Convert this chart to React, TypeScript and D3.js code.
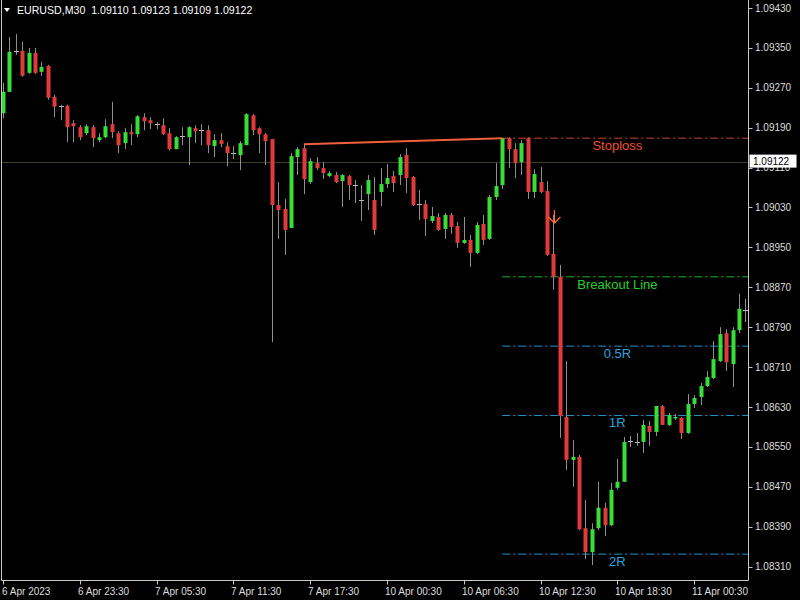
import React from "react";
import * as d3 from "d3";

// Chart header
const symbol = "EURUSD,M30";
const headerQuote = ["1.09110", "1.09123", "1.09109", "1.09122"];
const bidPrice = 1.09122;

// OHLC per 30-minute bar, oldest first
const opens = [
  1.09219, 1.09262, 1.09344, 1.09344, 1.093, 1.0934, 1.09302, 1.09314, 1.09252, 1.09234,
  1.09234, 1.09199, 1.09191, 1.09179, 1.09191, 1.09165, 1.09171, 1.09197, 1.09179, 1.09159,
  1.09181, 1.09177, 1.09211, 1.09205, 1.09197, 1.09195, 1.09179, 1.09147, 1.09173, 1.09171,
  1.09189, 1.09185, 1.09185, 1.09153, 1.09165, 1.09153, 1.09139, 1.09135, 1.09155, 1.09215,
  1.09189, 1.09177, 1.09167, 1.09035, 1.09027, 1.08989, 1.09131, 1.09149, 1.09081, 1.09119,
  1.09109, 1.09093, 1.09095, 1.09083, 1.09093, 1.09075, 1.09045, 1.09057, 1.09045, 1.09061,
  1.09077, 1.09093, 1.09095, 1.09135, 1.09091, 1.09037, 1.09037, 1.09003, 1.09011, 1.08987,
  1.09015, 1.08993, 1.08959, 1.08965, 1.08939, 1.08997, 1.08967, 1.09051, 1.09075, 1.09169,
  1.09147, 1.09121, 1.09169, 1.09061, 1.09081, 1.09063, 1.08937, 1.08891, 1.0861, 1.08524,
  1.0853, 1.08387, 1.08339, 1.08387, 1.08428, 1.08393, 1.08468, 1.0848, 1.08562, 1.0856,
  1.0856, 1.08592, 1.0858, 1.08632, 1.08594, 1.08608, 1.08608, 1.08578, 1.08636, 1.0865,
  1.08672, 1.08688, 1.08722, 1.08778, 1.08716, 1.08784, 1.08824,
];
const highs = [
  1.0928, 1.09372, 1.09378, 1.09362, 1.0935, 1.0935, 1.09322, 1.09316, 1.09256, 1.09236,
  1.09236, 1.09205, 1.09195, 1.09197, 1.09195, 1.09179, 1.09207, 1.09242, 1.09183, 1.09189,
  1.09197, 1.09215, 1.09219, 1.09211, 1.09201, 1.09209, 1.09189, 1.09173, 1.09191, 1.09193,
  1.09195, 1.09197, 1.09195, 1.09177, 1.09179, 1.09161, 1.09153, 1.09163, 1.09219, 1.09217,
  1.09191, 1.09179, 1.09167, 1.09081, 1.09047, 1.09139, 1.09151, 1.09157, 1.09129, 1.09131,
  1.09121, 1.09103, 1.09101, 1.09097, 1.09095, 1.09085, 1.09075, 1.09095, 1.09091, 1.09109,
  1.09117, 1.09103, 1.09137, 1.09149, 1.09093, 1.09065, 1.09045, 1.09031, 1.09019, 1.09019,
  1.09019, 1.09001, 1.09011, 1.08975, 1.09001, 1.09015, 1.09055, 1.09119, 1.09169, 1.09171,
  1.09159, 1.09165, 1.09171, 1.09107, 1.09111, 1.09083, 1.09015, 1.08915, 1.08722, 1.08564,
  1.08534, 1.08444, 1.08397, 1.0848, 1.08438, 1.08478, 1.08526, 1.0857, 1.08572, 1.08578,
  1.08604, 1.08602, 1.08632, 1.08634, 1.08618, 1.08616, 1.0861, 1.08656, 1.08654, 1.08678,
  1.08702, 1.08762, 1.0879, 1.08786, 1.0879, 1.08857, 1.08847,
];
const lows = [
  1.09209, 1.09262, 1.09336, 1.09292, 1.09298, 1.09298, 1.09294, 1.09246, 1.09211, 1.09205,
  1.09161, 1.09161, 1.09165, 1.09175, 1.09151, 1.09161, 1.09169, 1.09169, 1.09139, 1.09147,
  1.09155, 1.09171, 1.09185, 1.09187, 1.09187, 1.09175, 1.09145, 1.09147, 1.09155, 1.09115,
  1.09159, 1.09155, 1.09139, 1.09131, 1.09151, 1.09113, 1.09127, 1.09105, 1.09155, 1.09175,
  1.09139, 1.09115, 1.0876, 1.08967, 1.08935, 1.08989, 1.09095, 1.09057, 1.09077, 1.09105,
  1.09087, 1.09091, 1.09079, 1.09031, 1.09045, 1.09039, 1.09003, 1.09025, 1.08975, 1.09033,
  1.09069, 1.09061, 1.09075, 1.09059, 1.09033, 1.09005, 1.08973, 1.08999, 1.08983, 1.08967,
  1.08977, 1.08949, 1.08957, 1.08911, 1.08937, 1.08955, 1.08965, 1.09045, 1.09067, 1.09109,
  1.09089, 1.09095, 1.09047, 1.09049, 1.09059, 1.08933, 1.08865, 1.08568, 1.08504, 1.0847,
  1.08383, 1.08325, 1.08313, 1.08383, 1.08371, 1.08391, 1.08464, 1.0848, 1.0855, 1.08552,
  1.08538, 1.08552, 1.08572, 1.08594, 1.08592, 1.08604, 1.08566, 1.08576, 1.08628, 1.08634,
  1.0867, 1.08686, 1.0872, 1.08702, 1.0867, 1.08778, 1.088,
];
const closes = [
  1.09262, 1.09342, 1.09344, 1.09294, 1.0934, 1.093, 1.09312, 1.0925, 1.09232, 1.09234,
  1.09191, 1.09193, 1.09171, 1.09193, 1.09169, 1.09171, 1.09193, 1.09181, 1.09155, 1.09181,
  1.09177, 1.09213, 1.09203, 1.09199, 1.09197, 1.09177, 1.09147, 1.09171, 1.09173, 1.09191,
  1.09183, 1.09185, 1.09155, 1.09165, 1.09157, 1.09139, 1.09139, 1.09159, 1.09217, 1.09185,
  1.09177, 1.09163, 1.09035, 1.09025, 1.08985, 1.09133, 1.09147, 1.09087, 1.09123, 1.09109,
  1.09099, 1.09099, 1.09081, 1.09095, 1.09075, 1.09075, 1.09045, 1.09085, 1.08985, 1.09077,
  1.09089, 1.09079, 1.09131, 1.09089, 1.09035, 1.09037, 1.09007, 1.09013, 1.08985, 1.09015,
  1.08991, 1.08959, 1.08965, 1.08939, 1.08995, 1.08965, 1.09051, 1.09073, 1.09169, 1.09147,
  1.09119, 1.09159, 1.09061, 1.09097, 1.09061, 1.08935, 1.08891, 1.08612, 1.08524, 1.0853,
  1.08385, 1.08339, 1.08385, 1.08428, 1.08393, 1.08464, 1.0848, 1.0856, 1.08562, 1.0856,
  1.08594, 1.0858, 1.08632, 1.08594, 1.08614, 1.0861, 1.08578, 1.08636, 1.08648, 1.08672,
  1.0869, 1.08726, 1.08776, 1.0872, 1.08784, 1.08827, 1.08824,
];

// Time axis labels, one every 12 bars
const timeLabels = [
  "6 Apr 2023", "6 Apr 23:30", "7 Apr 05:30", "7 Apr 11:30", "7 Apr 17:30",
  "10 Apr 00:30", "10 Apr 06:30", "10 Apr 12:30", "10 Apr 18:30", "11 Apr 00:30",
];
const barsPerLabel = 12;

// Price axis ticks
const priceTicks = [
  1.0943, 1.0935, 1.0927, 1.0919, 1.0911, 1.0903, 1.0895, 1.0887, 1.0879, 1.0871,
  1.0863, 1.0855, 1.0847, 1.0839, 1.0831,
];

// Breakout indicator objects
const trendStartBar = 47;
const trendEndBar = 78;
const stopLoss = 1.09169;
const breakoutLevel = 1.08891;
const rMultiples = [0.5, 1, 2];
const rLabels = ["0.5R", "1R", "2R"];
const levelLabelBar = 96;
const signalBar = 86;
const signalTop = 1.09025;
const signalBottom = 1.08999;

const W = 800;
const H = 600;
const plotRight = 748.5;
const plotBottom = 580.5;
const frameLeft = 1.5;

const FONT = "'Liberation Sans', Arial, sans-serif";
const BULL = "#38dd38";
const BEAR = "#e03a3a";
const WICK = "#8f8f8f";
const AXIS_TEXT = "#dedede";

export default function App() {
  const n = opens.length;
  const x = d3.scaleLinear().domain([0, n - 1]).range([3, 3 + 6.4 * (n - 1)]);
  const y = d3.scaleLinear().domain([1.0943, 1.0831]).range([8, 566.6]);
  const fmt = d3.format(".5f");

  const risk = stopLoss - breakoutLevel;
  const levelStartX = x(trendEndBar);
  const labelX = x(levelLabelBar);

  const dashDot = "8,3,2,3";

  const candles = opens.map((o, i) => {
    const cx = Math.round(x(i));
    const c = closes[i];
    const yTop = y(Math.max(o, c));
    const yBot = y(Math.min(o, c));
    const isDoji = Math.abs(c - o) < 0.000005;
    return (
      <g key={i}>
        <line x1={cx + 0.5} x2={cx + 0.5} y1={y(highs[i])} y2={y(lows[i])} stroke={WICK} strokeWidth={1} />
        {isDoji ? (
          <line x1={cx - 2} x2={cx + 3} y1={Math.round(yTop) + 0.5} y2={Math.round(yTop) + 0.5} stroke="#b8b8b8" strokeWidth={1} />
        ) : (
          <rect x={cx - 1.5} width={4} y={yTop} height={Math.max(1.5, yBot - yTop)} fill={c > o ? BULL : BEAR} />
        )}
      </g>
    );
  });

  const ax = x(signalBar) + 1;
  const ay1 = y(signalTop);
  const ay2 = y(signalBottom);
  const bidY = y(bidPrice);

  return (
    <svg
      width={W}
      height={H}
      style={{ position: "absolute", left: 0, top: 0, display: "block", background: "#000" }}
    >
      <rect x={0} y={0} width={W} height={H} fill="#000" />

      {/* bid line */}
      <line x1={frameLeft} x2={plotRight} y1={Math.round(bidY) + 0.5} y2={Math.round(bidY) + 0.5} stroke="#3d3d2a" strokeWidth={1} />

      {/* risk levels */}
      <line x1={levelStartX} x2={plotRight} y1={y(stopLoss)} y2={y(stopLoss)} stroke="#c8462a" strokeWidth={1} strokeDasharray={dashDot} />
      <line x1={levelStartX} x2={plotRight} y1={y(breakoutLevel)} y2={y(breakoutLevel)} stroke="#23b023" strokeWidth={1} strokeDasharray={dashDot} />
      {rMultiples.map((m, i) => (
        <line key={rLabels[i]} x1={levelStartX} x2={plotRight} y1={y(breakoutLevel - m * risk)} y2={y(breakoutLevel - m * risk)} stroke="#1f95c8" strokeWidth={1} strokeDasharray={dashDot} />
      ))}

      {candles}

      {/* trend line across the highs */}
      <line
        x1={x(trendStartBar)}
        x2={x(trendEndBar)}
        y1={y(highs[trendStartBar])}
        y2={y(highs[trendEndBar])}
        stroke="#f0603c"
        strokeWidth={2}
      />

      {/* sell signal arrow */}
      <g stroke="#ff6a2c" strokeWidth={1.3} fill="none">
        <line x1={ax} x2={ax} y1={ay1} y2={ay2} />
        <polyline points={`${ax - 6},${ay2 - 6} ${ax},${ay2} ${ax + 6},${ay2 - 6}`} />
      </g>

      {/* level labels */}
      <g fontFamily={FONT} fontSize={13} textAnchor="middle">
        <text x={labelX} y={y(stopLoss) + 12} fill="#ee4e2c">Stoploss</text>
        <text x={labelX} y={y(breakoutLevel) + 12} fill="#2bd02b">Breakout Line</text>
        {rMultiples.map((m, i) => (
          <text key={rLabels[i]} x={labelX} y={y(breakoutLevel - m * risk) + 12} fill="#2aa4dc">
            {rLabels[i]}
          </text>
        ))}
      </g>

      {/* frame */}
      <g stroke="#c8c8c8" strokeWidth={1} fill="none">
        <line x1={frameLeft} x2={frameLeft} y1={0} y2={plotBottom} />
        <line x1={plotRight} x2={plotRight} y1={0} y2={plotBottom} />
        <line x1={frameLeft} x2={plotRight} y1={plotBottom} y2={plotBottom} />
      </g>

      {/* price axis */}
      <g fontFamily={FONT} fontSize={10} fill={AXIS_TEXT}>
        {priceTicks.map((p) => (
          <g key={p}>
            <line x1={plotRight} x2={plotRight + 4} y1={Math.round(y(p)) + 0.5} y2={Math.round(y(p)) + 0.5} stroke="#c8c8c8" />
            <text x={755} y={y(p) + 3.5}>{fmt(p)}</text>
          </g>
        ))}
      </g>

      {/* bid price tag */}
      <rect x={749.5} y={bidY - 7} width={47} height={13} fill="#ffffff" />
      <text x={753} y={bidY + 3.5} fontFamily={FONT} fontSize={10} fill="#000">{fmt(bidPrice)}</text>

      {/* time axis */}
      <g fontFamily={FONT} fontSize={10} fill={AXIS_TEXT}>
        {timeLabels.map((t, i) => {
          const tx = Math.round(x(i * barsPerLabel)) + 0.5;
          return (
            <g key={t}>
              <line x1={tx} x2={tx} y1={plotBottom} y2={plotBottom + 4} stroke="#c8c8c8" />
              <text x={Math.max(2, tx - 2.5)} y={595}>{t}</text>
            </g>
          );
        })}
      </g>

      {/* header */}
      <polygon points="4,8 10,8 7,12" fill="#ffffff" />
      <text x={17} y={14} fontFamily={FONT} fontSize={10.6} fill="#ffffff" style={{ whiteSpace: "pre" }}>
        {`${symbol}  ${headerQuote.join(" ")}`}
      </text>
    </svg>
  );
}
